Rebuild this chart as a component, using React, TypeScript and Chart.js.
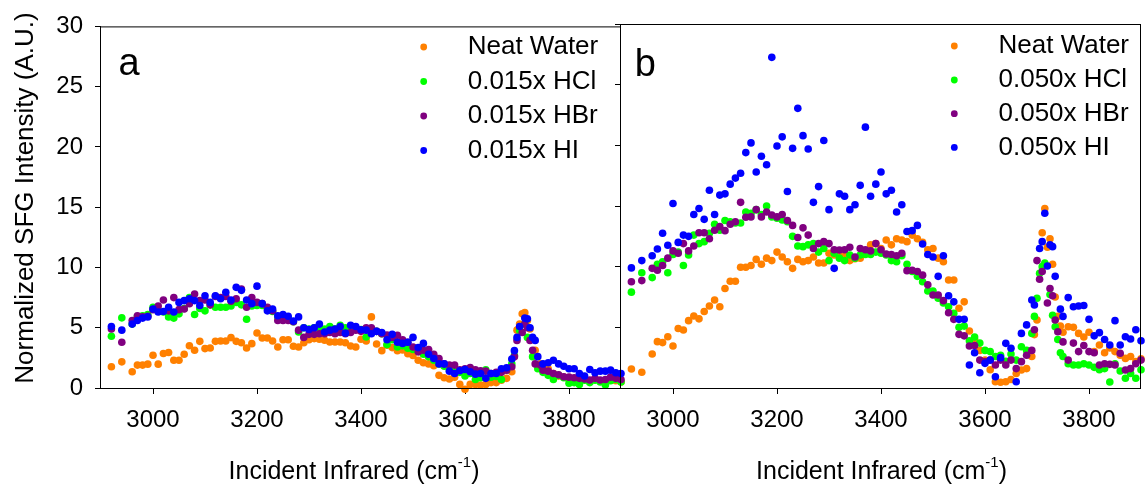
import React, { useEffect, useRef } from 'react';
import { Chart, registerables } from 'chart.js';

Chart.register(...registerables);

const FONT = '"Liberation Sans", Arial, Helvetica, sans-serif';

// Incident infrared wavenumbers (cm-1) shared by both panels
const WAVENUMBER = [
  2920, 2930, 2940, 2950, 2960, 2970, 2980, 2990,
  3000, 3010, 3020, 3030, 3040, 3050, 3060, 3070, 3080, 3090,
  3100, 3110, 3120, 3130, 3140, 3150, 3160, 3170, 3180, 3190,
  3200, 3210, 3220, 3230, 3240, 3250, 3260, 3270, 3280, 3290,
  3300, 3310, 3320, 3330, 3340, 3350, 3360, 3370, 3380, 3390,
  3400, 3410, 3420, 3430, 3440, 3450, 3460, 3470, 3480, 3490,
  3500, 3510, 3520, 3530, 3540, 3550, 3560, 3570, 3580, 3590,
  3600, 3610, 3620, 3630, 3640, 3650, 3660, 3670, 3680, 3690,
  3695, 3700, 3705, 3710, 3715, 3720, 3725, 3730, 3735, 3740, 3745, 3750,
  3760, 3770, 3780, 3790, 3800, 3810, 3820, 3830, 3840, 3850, 3860, 3870, 3880, 3890, 3900,
];

const X_TICKS = [3000, 3200, 3400, 3600, 3800];
const Y_TICKS = [0, 5, 10, 15, 20, 25, 30];

// Panel a
const A_NEAT = [
  1.76, null, 2.17, null, 1.35, 1.9, 1.9, 1.98,
  2.72, 1.98, 2.86, 2.94, 2.3, 2.3, 2.8, 3.5, 3.13, 3.87,
  3.27, 3.32, 3.87, 3.9, 3.9, 4.18, 3.87, 3.76, 3.32, 3.68,
  4.56, 4.15, 4.15, 3.9, 3.4, 4.0, 4.0, 3.46, 3.4, 3.76,
  4.0, 4.1, 4.04, 3.96, 3.82, 3.82, 3.82, 3.76, 3.48, 3.4,
  4.05, 3.9, 5.9, 3.65, 3.1, 3.55, 3.35, 3.1, 3.15, 2.85,
  2.7, 2.3, 2.1, 2.0, 1.85, 1.05, 0.85, 0.75, 0.9, 0.3,
  -0.1, 0.3, 0.3, 0.25, 0.3, 0.45, 0.45, 0.65, 0.8, 1.35,
  null, 4.8, 5.3, 6.15, 6.25, 5.6, 4.9, null, 3.13, null, 2.0, null,
  1.6, 1.2, 1.0, 0.9, 0.7, 0.8, 0.6, 0.7, 0.55, 0.7, 0.6, 0.5, 0.7, 0.6, 0.5,
];
const A_HCL = [
  4.29, null, 5.82, null, 5.3, 5.9, 6.0, 6.1,
  6.7, 6.4, 6.3, 5.9, 5.8, 6.15, 6.6, 7.5, 6.1, 6.6,
  6.4, 6.9, 6.7, 6.7, 6.7, 6.8, 7.1, 6.9, 5.7, 6.8,
  6.85, 6.85, 6.6, 6.35, 5.9, 5.9, 5.8, 5.5, 4.65, 5.0,
  4.9, 5.0, 5.0, 4.9, 5.1, 4.9, 5.2, 5.0, 4.9, 5.0,
  4.85, 4.23, 4.8, 4.7, 4.5, 3.6, 4.0, 3.4, 3.5, 3.3,
  3.2, 3.1, 2.8, 2.6, 2.3, 2.0, 1.8, 1.5, 1.4, 1.3,
  1.0, 1.2, 0.7, 0.85, 1.5, 0.9, 0.95, 0.7, 1.5, 2.0,
  2.7, null, 4.8, null, 5.3, 4.2, null, 2.6, null, 1.6, null, 1.3,
  1.05, 0.7, 1.05, 0.85, 0.4, 0.45, 0.3, 0.65, 0.45, 0.65, 0.5, 0.25, 0.6, 0.7, 0.5,
];
const A_HBR = [
  4.9, null, 3.8, null, 5.6, 6.0, 5.9, 5.95,
  6.5, 6.8, 7.3, 6.4, 7.5, 6.5, 6.55, 7.0, 7.8, 7.25,
  7.3, 6.9, 7.6, 7.5, 7.6, 7.2, 7.4, 8.2, 6.7, 7.5,
  7.1, 7.0, 6.7, 6.4, 5.6, 5.6, 5.6, 5.5, 4.8, 4.2,
  4.45, 4.45, 4.5, 4.5, 4.6, 4.5, 4.6, 4.5, 4.6, 4.8,
  4.7, 5.0, 5.0, 4.7, 4.5, 4.4, 4.2, 4.37, 4.0, 3.8,
  3.4, 3.0, 3.13, 3.2, 2.8, 2.45, 2.0, 1.9, 1.9, 1.5,
  1.6, 1.7, 1.5, 1.43, 1.4, 1.2, 1.3, 1.3, 1.48, 1.76,
  2.6, 3.95, null, 4.6, 5.3, 5.0, 3.95, 3.13, 2.0, null, 1.9, 1.48,
  1.4, 1.2, 1.1, 0.93, 0.9, 0.85, 0.8, 0.75, 0.66, 0.8, 0.66, 0.7, 0.9, 0.8, 0.7,
];
const A_HI = [
  5.1, null, 4.8, null, 5.3, 5.6, 5.8, 5.9,
  6.55, 6.3, 6.35, 6.7, 6.3, 7.1, 7.25, 7.4, 7.25, 6.85,
  7.65, 7.1, 7.65, 7.4, 7.95, 7.3, 8.35, 8.1, 7.3, 7.0,
  8.45, 7.0, 6.4, 6.55, 6.0, 6.1, 5.95, 5.55, 5.9, 5.0,
  4.85, 5.0, 5.3, 4.65, 4.8, 4.9, 5.1, 4.55, 5.2, 5.1,
  4.83, 4.8, 4.5, 4.7, 4.6, 4.0, 4.45, 3.8, 3.7, 3.8,
  4.2, 3.35, 3.7, 2.8, 2.45, 2.0, 2.0, 1.4, 1.2, 1.43,
  1.54, 1.35, 1.15, 1.2, 0.8, 1.2, 1.2, 1.6, 1.68, 2.4,
  3.1, 4.2, 5.1, null, 5.8, 5.75, 5.0, 4.2, 3.95, 2.6, null, 2.0,
  2.1, 2.3, 2.0, 1.8, 1.6, 1.6, 1.2, 1.0, 1.54, 1.26, 1.4, 1.4, 1.48, 1.26, 1.2,
];

// Panel b
const B_NEAT = [
  1.57, null, 1.3, null, 2.8, 3.82, 3.74, 4.23,
  3.46, 4.9, 4.78, 5.55, 5.93, 5.7, 6.3, 6.76, 7.25, 6.7,
  8.2, 8.8, 8.8, 9.95, 9.95, 10.1, 10.6, 10.2, 10.7, 10.5,
  11.2, 10.8, 10.4, 9.86, 10.6, 10.4, 10.5, 10.8, 10.3, 10.3,
  11.1, 10.96, 10.9, 10.85, 10.5, 10.65, 10.7, 11.1, 11.8, 11.9,
  11.5, 12.2, 11.8, 12.3, 12.2, 12.06, 12.6, 12.3, 12.0, 11.4,
  11.5, 10.7, 10.4, 8.9, 8.9, 6.57, 7.1, 4.7, 4.0, 3.1,
  2.3, 1.5, 0.52, 0.47, 0.52, 0.7, 1.2, 1.48, 1.6, 2.6,
  4.4, 5.6, null, 12.8, 14.8, 11.6, 12.3, 10.2, 7.5, 5.9, 5.1, 4.6,
  5.05, 5.0, 4.5, 4.2, 4.6, 3.0, 3.54, 2.9, 3.3, 3.0, 2.7, 2.44, 2.6, 2.17, 2.4,
];
const B_HCL = [
  7.9, null, 9.5, null, 9.1, 10.2, 10.4, 9.5,
  11.0, 11.2, 10.1, 10.96, 12.6, 11.9, 12.06, 12.75, 13.5, 13.0,
  13.8, 13.7, 13.6, 13.6, 14.5, 14.4, 14.7, 14.3, 15.0, 14.1,
  14.0, 13.85, 13.7, 12.5, 11.7, 11.65, 11.8, 11.9, 11.2, 11.5,
  10.5, 11.1, 10.7, 10.5, 10.96, 10.7, 10.96, 11.0, 11.0, 11.2,
  11.1, 10.96, 10.5, 10.4, 10.9, 10.2, 9.6, 9.2, 8.76, 8.0,
  8.0, 7.4, 7.0, 6.7, 6.15, 5.0, 5.1, 3.9, 4.2, 3.7,
  3.1, 3.0, 2.6, 2.7, 2.2, 2.8, 2.3, 3.4, 3.1, 4.5,
  5.9, 7.4, 9.45, 10.0, 10.3, null, 7.7, 6.0, 5.05, 4.0, 2.9, 2.6,
  2.0, 1.9, 1.9, 2.0, 1.9, 1.7, 1.5, 1.6, 0.5, 2.0, 1.4, 0.8, 1.2, 0.8, 1.5,
];
const B_HBR = [
  8.76, null, 8.85, null, 9.86, 9.7, 10.1, 10.7,
  11.3, 11.1, 11.9, 11.3, 11.7, 12.8, 12.8, 12.3, 13.0, 13.3,
  12.97, 13.5, 13.7, 15.3, 14.07, 14.1, 14.7, 14.1, 14.5, 14.26,
  14.1, 14.3, 13.8, 13.4, 12.4, 13.2, 12.6, 11.5, 11.9, 12.06,
  11.9, 11.4, 11.37, 11.4, 11.6, 10.8, 11.5, 11.4, 11.3, 11.9,
  11.4, 11.04, 11.0, 10.9, 11.1, 9.67, 9.7, 9.6, 9.3, 8.5,
  7.66, 7.66, 7.2, 6.2, 5.66, 4.42, 4.3, 3.46, 3.5, 2.3,
  2.17, 2.3, 1.9, 2.3, 1.9, 2.3, 1.6, 2.17, 2.7, 3.1,
  4.8, 10.5, 8.96, 9.6, null, 7.0, 8.2, 7.6, 5.6, 4.64, null, 3.8,
  2.3, 3.7, 3.0, 3.5, 3.0, 2.9, 1.9, 2.0, 1.95, 1.9, 2.86, 1.48, 1.6, 2.0, 2.3,
];
const B_HI = [
  9.9, null, 10.5, null, 10.9, 11.45, 12.75, 11.76,
  15.2, 12.0, 12.6, 12.5, 14.3, 14.8, 13.9, 16.3, 14.3, 15.9,
  16.0, 16.8, 17.3, 17.7, 19.4, 20.2, 17.8, 19.1, 18.4, 27.25,
  19.95, 20.7, 16.2, 19.75, 23.05, 20.8, 19.7, 15.3, 16.6, 20.4,
  14.7, 9.86, 16.0, 15.8, 14.7, 15.1, 16.7, 21.5, 15.8, 16.8,
  17.8, 16.0, 16.3, 14.5, 15.1, 12.9, 12.97, 13.4, 11.87, 11.0,
  10.8, 9.2, 10.9, 7.6, 7.1, 5.66, 5.66, 1.9, 2.9, 1.26,
  2.03, 2.3, 0.93, 2.5, 3.68, 3.27, 0.52, 4.5, 5.2, 7.25,
  6.84, null, 11.5, 12.06, 14.4, 10.05, 11.8, 11.65, 9.2, null, 6.5, 5.9,
  7.45, 6.7, 6.76, 6.8, 5.66, 4.3, 4.56, 4.0, 3.54, 5.55, 3.54, 4.23, 4.04, 4.8, 3.9,
];

const LABELS_A = ['Neat Water', '0.015x HCl', '0.015x HBr', '0.015x HI'];
const LABELS_B = ['Neat Water', '0.050x HCl', '0.050x HBr', '0.050x HI'];
const COLORS = ['#ff8000', '#00ff00', '#800080', '#0000ff'];

const Y_TITLE = 'Normalized SFG Intensity (A.U.)';
const X_TITLE = 'Incident Infrared (cm';
const X_TITLE_SUP = '-1';

type Spec = {
  letter: string;
  labels: string[];
  series: (number | null)[][];
  left: number;
  width: number;
  yAxisWidth: number;
  rightPad: number;
  showYLabels: boolean;
  letterX: number;
  letterY: number;
  dotX: number;
  textX: number;
  rows: number[];
  titleCenter: number;
};

function buildChart(canvas: HTMLCanvasElement, spec: Spec) {
  const ox = spec.left;
  const extras = {
    id: 'panelExtras',
    afterDraw(chart: any) {
      const ctx = chart.ctx as CanvasRenderingContext2D;
      const a = chart.chartArea;
      ctx.save();
      // frame
      ctx.strokeStyle = '#000';
      ctx.lineWidth = 1;
      ctx.strokeRect(a.left - 0.5, a.top + 0.5, a.right - a.left, a.bottom - a.top);
      // panel letter
      ctx.fillStyle = '#000';
      ctx.textAlign = 'left';
      ctx.textBaseline = 'alphabetic';
      ctx.font = `38px ${FONT}`;
      ctx.fillText(spec.letter, spec.letterX - ox, spec.letterY);
      // legend
      ctx.font = `26px ${FONT}`;
      ctx.textBaseline = 'middle';
      spec.labels.forEach((lab, i) => {
        ctx.beginPath();
        ctx.fillStyle = COLORS[i];
        ctx.arc(spec.dotX - ox, spec.rows[i], 3.4, 0, Math.PI * 2);
        ctx.fill();
        ctx.fillStyle = '#000';
        ctx.fillText(lab, spec.textX - ox, spec.rows[i]);
      });
      // x title with superscript
      ctx.textBaseline = 'alphabetic';
      ctx.font = `25px ${FONT}`;
      const w1 = ctx.measureText(X_TITLE).width;
      const w3 = ctx.measureText(')').width;
      ctx.font = `15px ${FONT}`;
      const w2 = ctx.measureText(X_TITLE_SUP).width;
      const start = spec.titleCenter - ox - (w1 + w2 + w3) / 2;
      ctx.font = `25px ${FONT}`;
      ctx.fillText(X_TITLE, start, 479);
      ctx.font = `15px ${FONT}`;
      ctx.fillText(X_TITLE_SUP, start + w1, 467);
      ctx.font = `25px ${FONT}`;
      ctx.fillText(')', start + w1 + w2, 479);
      // y title
      if (spec.showYLabels) {
        ctx.save();
        ctx.translate(33 - ox, 198);
        ctx.rotate(-Math.PI / 2);
        ctx.textAlign = 'center';
        ctx.font = `26px ${FONT}`;
        ctx.fillText(Y_TITLE, 0, 0);
        ctx.restore();
      }
      ctx.restore();
    },
  };

  const datasets = spec.series.map((s, k) => ({
    label: spec.labels[k],
    data: WAVENUMBER.map((x, i) => ({ x, y: s[i] })).filter((p) => p.y !== null),
    backgroundColor: COLORS[k],
    borderColor: COLORS[k],
    borderWidth: 0,
    pointRadius: 3.8,
    pointHoverRadius: 3.8,
    clip: false as any,
    order: 4 - k,
  }));

  return new Chart(canvas, {
    type: 'scatter',
    data: { datasets },
    plugins: [extras],
    options: {
      responsive: false,
      animation: false,
      devicePixelRatio: 1,
      events: [],
      layout: { padding: { left: 0, right: spec.rightPad, top: 24, bottom: 0 } },
      plugins: { legend: { display: false }, tooltip: { enabled: false } },
      scales: {
        x: {
          type: 'linear',
          min: 2900,
          max: 3900,
          afterBuildTicks: (scale: any) => {
            scale.ticks = X_TICKS.map((v) => ({ value: v }));
          },
          afterFit: (scale: any) => {
            scale.height = 96;
          },
          border: { display: false },
          grid: { drawOnChartArea: false, drawTicks: true, tickLength: 6, color: '#000' },
          ticks: {
            color: '#000',
            font: { family: FONT, size: 24 },
            padding: 12,
            maxRotation: 0,
            autoSkip: false,
            callback: (v: any) => String(v),
          },
          title: { display: false },
        },
        y: {
          type: 'linear',
          min: 0,
          max: 30,
          afterBuildTicks: (scale: any) => {
            scale.ticks = Y_TICKS.map((v) => ({ value: v }));
          },
          afterFit: (scale: any) => {
            scale.width = spec.yAxisWidth;
          },
          border: { display: false },
          grid: { drawOnChartArea: false, drawTicks: true, tickLength: 6, color: '#000' },
          ticks: {
            display: spec.showYLabels,
            color: '#000',
            font: { family: FONT, size: 24 },
            padding: 12,
            callback: (v: any) => String(v),
          },
          title: { display: false },
        },
      },
    } as any,
  });
}

const SPEC_A: Spec = {
  letter: 'a',
  labels: LABELS_A,
  series: [A_NEAT, A_HCL, A_HBR, A_HI],
  left: 0,
  width: 640,
  yAxisWidth: 101,
  rightPad: 19,
  showYLabels: true,
  letterX: 118.5,
  letterY: 75,
  dotX: 423.7,
  textX: 467.7,
  rows: [47, 81.5, 116, 150.5],
  titleCenter: 354,
};

const SPEC_B: Spec = {
  letter: 'b',
  labels: LABELS_B,
  series: [B_NEAT, B_HCL, B_HBR, B_HI],
  left: 600,
  width: 545,
  yAxisWidth: 21,
  rightPad: 4,
  showYLabels: false,
  letterX: 634.7,
  letterY: 76,
  dotX: 954.3,
  textX: 998.5,
  rows: [46, 80, 113.7, 147.4],
  titleCenter: 881.5,
};

function Panel({ spec }: { spec: Spec }) {
  const ref = useRef<HTMLCanvasElement | null>(null);
  useEffect(() => {
    if (!ref.current) return;
    const chart = buildChart(ref.current, spec);
    return () => chart.destroy();
  }, [spec]);
  return (
    <canvas
      ref={ref}
      width={spec.width}
      height={484}
      style={{ position: 'absolute', left: spec.left, top: 0, width: spec.width, height: 484 }}
    />
  );
}

export default function App() {
  return (
    <div
      style={{
        position: 'fixed',
        left: 0,
        top: 0,
        width: 1145,
        height: 484,
        background: '#ffffff',
        overflow: 'hidden',
      }}
    >
      <Panel spec={SPEC_A} />
      <Panel spec={SPEC_B} />
    </div>
  );
}
